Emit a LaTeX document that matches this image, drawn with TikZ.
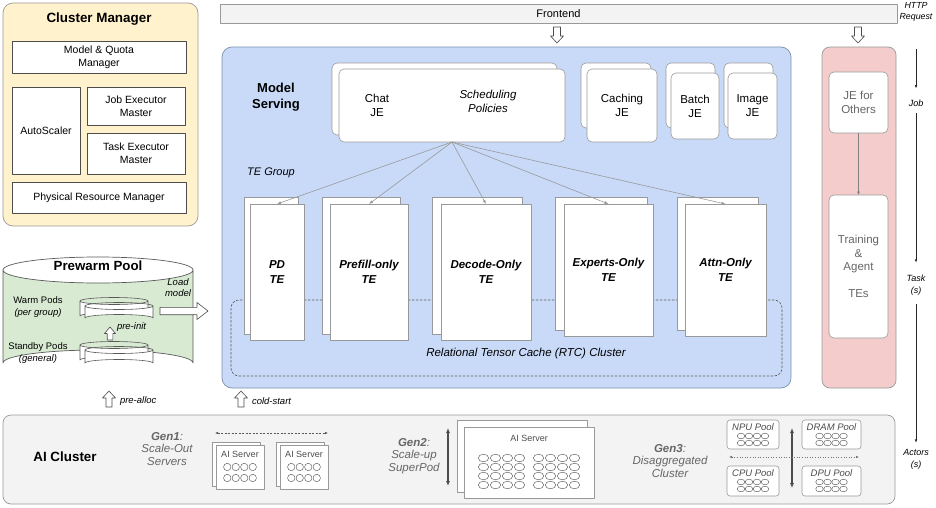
\documentclass[tikz,border=0pt]{standalone}
\usepackage{fontspec}
\setmainfont{Liberation Sans}
\usetikzlibrary{arrows.meta}
\definecolor{cmfill}{HTML}{FFF2CC}
\definecolor{pwfill}{HTML}{D9EAD3}
\definecolor{msfill}{HTML}{C9DAF8}
\definecolor{msdraw}{HTML}{7F90AE}
\definecolor{rdfill}{HTML}{F4CCCC}
\definecolor{gyfill}{HTML}{F3F3F3}
\definecolor{bord}{HTML}{999999}
\definecolor{txtg}{HTML}{666666}
\newcommand\fsz[2]{\fontsize{#1pt}{#2pt}\selectfont}
% box by corners: style, name, x1, y1, x2, y2, text
\newcommand\rbox[7]{\node[#1, minimum width={(#5)-(#3)}, minimum height={(#6)-(#4)}] (#2) at ({((#3)+(#5))/2},{((#4)+(#6))/2}) {#7};}
% hollow vertical arrow: x, ytail, ytip, shaft half, head half, head length
\newcommand\hvert[6]{\pgfmathsetmacro\hby{(#3>#2) ? (#3-#6) : (#3+#6)}%
 \draw[harrow] ({#1-#4},{#2}) -- ({#1+#4},{#2}) -- ({#1+#4},\hby) -- ({#1+#5},\hby) -- (#1,#3) -- ({#1-#5},\hby) -- ({#1-#4},\hby) -- cycle;}
% hollow right arrow: xtail, xtip, y, shaft half, head half, head length
\newcommand\hright[6]{\pgfmathsetmacro\hbx{#2-#6}%
 \draw[harrow] (#1,{#3-#4}) -- (\hbx,{#3-#4}) -- (\hbx,{#3-#5}) -- (#2,#3) -- (\hbx,{#3+#5}) -- (\hbx,{#3+#4}) -- (#1,{#3+#4}) -- cycle;}
% small pod cylinder: cx, ytop(center of top ellipse), ybottom
\newcommand\pod[3]{\path[podline, fill=white] ({#1-34},#2) -- ({#1-34},#3) arc[start angle=180,end angle=360,x radius=34,y radius=3.5] -- ({#1+34},#2) arc[start angle=0,end angle=180,x radius=34,y radius=3.5] -- cycle;
 \draw[podline] ({#1-34},#2) arc[start angle=180,end angle=360,x radius=34,y radius=3.5];}
\begin{document}
\begin{tikzpicture}[x=1pt,y=-1pt,line join=round,
 nb/.style={inner sep=0pt, outer sep=0pt, align=center},
 cmouter/.style={nb, draw=bord, fill=cmfill, rounded corners=10pt, line width=0.7pt},
 cmin/.style={nb, draw=black!70, fill=white, line width=0.6pt, font=\fsz{10.5}{13}},
 fe/.style={nb, draw=bord, fill=gyfill, line width=0.6pt, font=\fsz{11}{13}},
 msbox/.style={nb, draw=msdraw, fill=msfill, rounded corners=10pt, line width=0.7pt},
 jeb/.style={nb, draw=bord, fill=white, rounded corners=5pt, line width=0.6pt, font=\fsz{11.5}{14}},
 teb/.style={nb, draw=bord, fill=white, line width=0.6pt, font=\bfseries\itshape\fsz{11.5}{15}},
 rtc/.style={draw=black!65, dash pattern=on 2.5pt off 1.5pt, rounded corners=8pt, line width=0.6pt},
 redbox/.style={nb, draw=bord, fill=rdfill, rounded corners=8pt, line width=0.7pt},
 jeo/.style={nb, draw=bord, fill=white, rounded corners=5pt, line width=0.6pt, font=\fsz{11.5}{13.5}, text=txtg},
 botbox/.style={nb, draw=bord, fill=gyfill, rounded corners=8pt, line width=0.7pt},
 srv/.style={nb, draw=bord, fill=white, line width=0.6pt},
 pool/.style={nb, draw=bord, fill=white, rounded corners=3pt, line width=0.6pt},
 ring/.style={draw=black!65, line width=0.45pt},
 harrow/.style={draw=black!70, fill=white, line width=0.6pt},
 podline/.style={draw=black!65, line width=0.6pt},
 fan/.style={draw=black!40, line width=0.6pt, -{Latex[length=4pt,width=3pt]}},
 tl/.style={nb, font=\itshape\fsz{9}{12}},
 tlar/.style={draw=black!85, line width=0.7pt, -{Latex[length=3.5pt,width=2.5pt]}},
 gen/.style={nb, font=\itshape\fsz{11.5}{12.5}, text=txtg},
 lab/.style={nb, font=\itshape\fsz{9.5}{11}},
 bigar/.style={draw=black!70, line width=1.2pt, {Latex[length=5pt,width=4pt]}-{Latex[length=5pt,width=4pt]}},
 srvtxt/.style={nb, font=\fsz{9}{11}, text=black!70},
 pooltxt/.style={nb, font=\itshape\fsz{9.5}{11}, text=black!70}]
\useasboundingbox (0,0) rectangle (936,508);

% ---------------- Cluster Manager ----------------
\rbox{cmouter}{cm}{3}{3}{198}{226}{}
\node[nb, font=\bfseries\fsz{13.4}{16}] (cmt) at (99,19) {Cluster Manager};
\rbox{cmin}{mqm}{12}{41}{186}{73}{Model \& Quota\\Manager}
\rbox{cmin}{asc}{12}{87}{80}{174}{AutoScaler}
\rbox{cmin}{jem}{87}{87}{185}{125}{Job Executor\\Master}
\rbox{cmin}{tem}{87}{133}{185}{174}{Task Executor\\Master}
\rbox{cmin}{prm}{12}{182}{186}{213}{Physical Resource Manager}

% ---------------- Prewarm Pool ----------------
\path[draw=black!65, fill=pwfill, line width=0.7pt] (3,270) -- (3,363) arc[start angle=180,end angle=360,x radius=95,y radius=13] -- (193,270) arc[start angle=0,end angle=180,x radius=95,y radius=13] -- cycle;
\draw[draw=black!65, line width=0.7pt] (3,270) arc[start angle=180,end angle=360,x radius=95,y radius=13];
\node[nb, font=\bfseries\fsz{13.3}{16}] (pwt) at (98,266) {Prewarm Pool};
\pod{114}{301}{316}
\pod{119}{306}{318}
\pod{114}{345}{360}
\pod{119}{350}{363}
\node[nb, minimum width=73, minimum height=24] (warm) at (116.5,310) {};
\node[nb, minimum width=73, minimum height=24] (standby) at (116.5,355) {};
\node[nb, font=\fsz{9.5}{12}] (warmt) at (38,307) {Warm Pods\\\textit{(per group)}};
\node[nb, font=\fsz{9.5}{12}] (standt) at (38,353) {Standby Pods\\\textit{(general)}};
\hvert{110}{340}{327}{2.8}{5.5}{6.5}
\node[lab, anchor=west] (preinit) at (117,327) {pre-init};
\node[lab] (loadm) at (178,288) {Load\\model};
\hright{160}{208}{311}{3.7}{8.5}{11}
\hvert{109}{407}{391}{3}{6.5}{7}
\node[lab, anchor=west] (prealloc) at (120,401) {pre-alloc};
\hvert{241}{407}{391}{3}{6.5}{7}
\node[lab, anchor=west] (coldst) at (252,401) {cold-start};

% ---------------- Frontend ----------------
\rbox{fe}{fe}{220}{4}{897}{23}{Frontend}
\hvert{557}{27}{43}{3.5}{6.5}{7}
\hvert{858}{27}{43}{3.5}{6.5}{7}

% ---------------- Model Serving ----------------
\rbox{msbox}{ms}{222}{47}{791}{388}{}
\node[nb, font=\bfseries\fsz{13}{16}] (mst) at (276,97) {Model\\Serving};
\rbox{jeb}{chatb}{332}{63}{557}{135}{}
\rbox{jeb}{chat}{339}{69}{565}{142}{}
\node[nb, font=\fsz{11.5}{14}] (chatt) at (377,105) {Chat\\JE};
\node[nb, font=\itshape\fsz{11.5}{14}] (sched) at (488,101) {Scheduling\\Policies};
\rbox{jeb}{cacheb}{581}{63}{651}{128}{}
\rbox{jeb}{cache}{587}{69}{657}{142}{Caching\\JE}
\rbox{jeb}{batchb}{666}{63}{715}{128}{}
\rbox{jeb}{batch}{671}{73}{719}{139}{Batch\\JE}
\rbox{jeb}{imageb}{724}{63}{773}{128}{}
\rbox{jeb}{image}{728}{73}{777}{139}{Image\\JE}
\node[nb, font=\itshape\fsz{11}{13}] (teg) at (271,173) {TE Group};

% RTC cluster (behind TE boxes)
\draw[rtc] (231,300) rectangle (782,376);
\node[nb, font=\itshape\fsz{11.5}{13}] (rtct) at (526,354) {Relational Tensor Cache (RTC) Cluster};

% TE boxes
\rbox{teb}{pdb}{244}{197}{298}{334}{}
\rbox{teb}{pd}{250}{204}{304}{340}{PD\\TE}
\rbox{teb}{pfb}{322}{197}{400}{334}{}
\rbox{teb}{pf}{330}{204}{408}{340}{Prefill-only\\TE}
\rbox{teb}{dcb}{432}{197}{522}{334}{}
\rbox{teb}{dc}{441}{204}{531}{340}{Decode-Only\\TE}
\rbox{teb}{exb}{555}{197}{647}{330}{}
\rbox{teb}{ex}{564}{204}{653}{336}{Experts-Only\\TE}
\rbox{teb}{atb}{677}{197}{758}{330}{}
\rbox{teb}{at}{685}{204}{766}{336}{Attn-Only\\TE}
\foreach \t in {pd,pf,dc,ex,at} \draw[fan] (chat.south) -- (\t.north);

% ---------------- Right column ----------------
\rbox{redbox}{rc}{822}{47}{896}{388}{}
\rbox{jeo}{jeo}{829}{72}{888}{133}{JE for\\Others}
\rbox{jeo}{tae}{829}{195}{888}{338}{Training\\\&\\Agent\\\mbox{}\\TEs}
\draw[draw=black!50, line width=0.6pt, -{Latex[length=3.5pt,width=3pt]}] (jeo.south) -- (tae.north);

% timeline
\node[tl, font=\itshape\fsz{8.8}{11}] (http) at (916,12) {HTTP\\Request};
\node[tl] (job) at (916,103) {Job};
\node[tl] (task) at (916,285) {Task\\(s)};
\node[tl] (act) at (916,459) {Actors\\(s)};
\draw[tlar, shorten <=28pt, shorten >=11pt] (http.south) -- (job.north);
\draw[tlar, shorten <=7pt, shorten >=12pt] (job.south) -- (task.north);
\draw[tlar, shorten <=9pt, shorten >=6pt] (task.south) -- (act.north);

% ---------------- AI Cluster ----------------
\rbox{botbox}{aic}{3}{415}{895}{504}{}
\node[nb, font=\bfseries\fsz{13.4}{16}] (aict) at (65,457) {AI Cluster};
\node[gen] (gen1) at (167,449) {\textbf{Gen1}:\\Scale-Out\\Servers};
\node[gen] (gen2) at (414,456) {\textbf{Gen2}:\\Scale-up\\SuperPod};
\node[gen] (gen3) at (670,461) {\textbf{Gen3}:\\Disaggregated\\Cluster};

% Gen1 servers
\rbox{srv}{s1b}{212}{442}{260}{486}{}
\rbox{srv}{s1}{216}{445}{264}{489}{}
\rbox{srv}{s2b}{276}{442}{324}{486}{}
\rbox{srv}{s2}{280}{445}{328}{489}{}
\node[srvtxt] (s1t) at (240,454) {AI Server};
\node[srvtxt] (s2t) at (304,454) {AI Server};
\foreach \cx in {227.25,235.75,244.25,252.75,291.25,299.75,308.25,316.75}
  \foreach \cy in {467,478} \draw[ring] (\cx,\cy) ellipse[x radius=3.7,y radius=3.7];
\coordinate (g1l) at (215,433);
\coordinate (g1r) at (328,433);
\draw[draw=black!65, line width=0.6pt, dash pattern=on 2pt off 1.5pt, {Latex[length=3pt,width=2.5pt]}-{Latex[length=3pt,width=2.5pt]}] (g1l) -- (g1r);

% Gen2 superpod
\coordinate (g2t) at (448,428);
\coordinate (g2b) at (448,486);
\draw[bigar] (g2t) -- (g2b);
\rbox{srv}{s3b}{457}{420}{587}{492}{}
\rbox{srv}{s3}{464}{427}{594}{498}{}
\node[srvtxt] (s3t) at (529,438) {AI Server};
\foreach \cx in {483.5,495.5,507.5,519.5,538.5,550.5,562.5,574.5}
  \foreach \cy in {458,467,476,485} \draw[ring] (\cx,\cy) ellipse[x radius=5.2,y radius=3.8];

% Gen3 pools
\rbox{pool}{npu}{727}{420}{779}{449}{}
\rbox{pool}{dram}{802}{420}{861}{449}{}
\rbox{pool}{cpu}{727}{466}{779}{496}{}
\rbox{pool}{dpu}{802}{466}{861}{496}{}
\node[pooltxt] (npt) at (753,427) {NPU Pool};
\node[pooltxt] (drt) at (831.5,427) {DRAM Pool};
\node[pooltxt] (cpt) at (753,473) {CPU Pool};
\node[pooltxt] (dpt) at (831.5,473) {DPU Pool};
\foreach \px in {753,831.5}{
  \foreach \dx in {-12,-4,4,12}{
    \foreach \cy in {436,443,482,489} \draw[ring] ({\px+\dx},\cy) ellipse[x radius=3.8,y radius=2.8];
  }
}
\coordinate (g3t) at (792,428);
\coordinate (g3b) at (792,488);
\draw[bigar] (g3t) -- (g3b);
\coordinate (g3l) at (729,457);
\coordinate (g3r) at (859,457);
\draw[draw=black!55, line width=0.6pt, dotted, {Latex[length=3pt,width=2.5pt]}-{Latex[length=3pt,width=2.5pt]}] (g3l) -- (g3r);
\end{tikzpicture}
\end{document}
